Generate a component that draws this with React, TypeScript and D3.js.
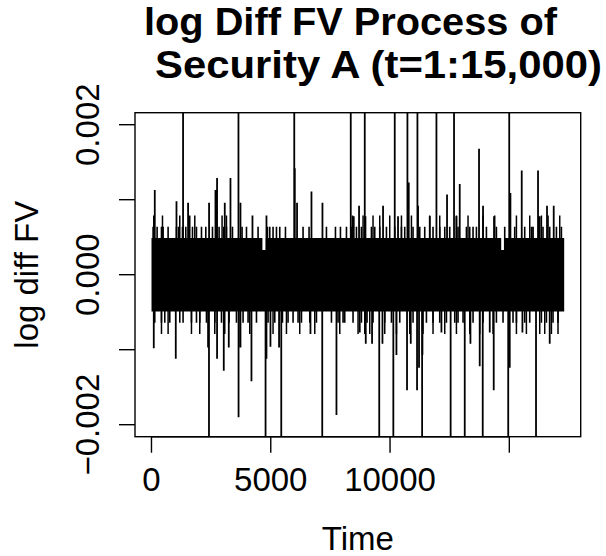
import * as d3 from "d3";

// series length (ts index 1..N)
const N = 17300;

// dense core of the series (solid black band)
const coreTime = [1, 4650, 4790, 14660, 14810, N];
const coreHigh = [0.00049, 0.00033, 0.00049, 0.00033, 0.00049, 0.00049];
const coreLow = [-0.00049, -0.00049, -0.00049, -0.00049, -0.00049, -0.00049];

// jumps that leave the plotting region (clipped by ylim)
const offTopTime = [1324, 3646, 5985, 8353, 8940, 10197, 10729, 11148, 11945, 12682, 14996];
const offBottomTime = [2410, 4782, 5440, 7158, 9547, 10138, 11345, 12540, 13131, 13885, 14954, 16119];
const offTopValue = 0.003;
const offBottomValue = -0.003;

// medium spikes
const spikeTime = [
  138, 1048, 1534, 2414, 2682, 2749, 3072, 3311, 3730, 4233, 4820, 6006, 6102, 6706, 7167,
  8479, 8701, 8969, 9707, 10335, 10784, 11174, 11664, 12389, 12783, 12921, 13730, 13898,
  14359, 15046, 15520, 15993, 16203, 16274, 16580, 16861,
  96, 1018, 2372, 2749, 3030, 3240, 3650, 3730, 4191, 4820, 4987, 5348, 6664, 7754, 8730,
  8982, 9246, 9682, 10268, 10712, 10868, 11132, 11215, 11358, 12154, 13370, 13759, 14179,
  14346, 15017, 15549, 16693,
];
const spikeValue = [
  0.00113, 0.00098, 0.00096, 0.00096, 0.00113, 0.00129, 0.00096, 0.00129, 0.00096, 0.00079,
  0.00079, 0.00142, 0.00096, 0.00111, 0.00096, 0.00078, 0.00092, 0.00078, 0.00092, 0.00078,
  0.00123, 0.00092, 0.00078, 0.00107, 0.00078, 0.00121, 0.00168, 0.00092, 0.00078, 0.00109,
  0.00139, 0.00064, 0.00139, 0.00078, 0.00092, 0.00092,
  -0.00098, -0.00112, -0.00097, -0.00112, -0.00128, -0.00097, -0.0019, -0.00097, -0.00142,
  -0.00112, -0.00096, -0.00097, -0.00079, -0.00187, -0.00077, -0.00092, -0.00092, -0.00092,
  -0.00107, -0.00154, -0.00092, -0.00154, -0.00124, -0.00107, -0.00077, -0.00092, -0.00122,
  -0.00077, -0.00154, -0.00124, -0.00077, -0.00092,
];

// small excursions one price step beyond the core
const edgeHigh = 0.00064;
const edgeLow = -0.00064;
const edgeUpTime = [
  68, 236, 419, 487, 697, 1048, 1144, 1299, 1438, 1719, 1886, 2096, 2276, 2557, 2834, 3030,
  3143, 3395, 3797, 3982, 4468, 4862, 4958, 5096, 5239, 5377, 5616, 6354, 6605, 7334, 7712,
  7921, 8173, 8382, 8592, 8801, 9220, 9359, 9568, 9849, 10197, 10478, 10616, 10964, 11245,
  11454, 11802, 12083, 12293, 12502, 12850, 13202, 13340, 13479, 13621, 14040, 14459, 14807,
  15226, 15645, 15926, 16412, 16693, 16974, 17183,
];
const edgeDownTime = [
  138, 419, 557, 767, 1186, 1324, 1676, 1886, 2024, 2305, 2653, 2934, 3252, 3562, 3839, 4049,
  4401, 4887, 5168, 5490, 5725, 5935, 6144, 6287, 6635, 6915, 7544, 7821, 8030, 8101, 8449,
  8801, 9036, 9287, 9778, 10059, 10407, 10826, 10964, 11525, 11802, 12083, 12364, 12712,
  12850, 13060, 13479, 13898, 14459, 14736, 15155, 15298, 15645, 15855, 16345, 16555, 16832,
  17041,
];

// excursions two price steps beyond the core
const step2High = 0.00079;
const step2Low = -0.00079;
const step2UpTime = [
  96, 461, 1186, 1605, 1815, 2959, 3143, 8424, 8869, 9287, 9568, 9987, 10478, 10897, 11664,
  12083, 12783, 13269, 13898, 14388, 15298, 15855, 16345, 16624, 17113,
];
const step2DownTime = [
  419, 697, 1676, 2024, 2653, 3072, 4120, 5096, 5658, 6215, 6845, 7893, 8659, 8940, 9149,
  9778, 10268, 10826, 11383, 11802, 12293, 12783, 13340, 13759, 14317, 15298, 15716, 16274,
  16484, 16765, 17041,
];

const xTicks = [0, 5000, 10000, 15000];
const xTickLabels = ["0", "5000", "10000", ""];
const yTicks = [-0.002, -0.001, 0, 0.001, 0.002];
const yTickLabels = ["\u22120.002", "", "0.000", "", "0.002"];

const FONT = "'Liberation Sans', Arial, Helvetica, sans-serif";

export default function App() {
  const width = 606, height = 556;
  const left = 135, right = 580.7, top = 112.7, bottom = 436.7;

  // R style 4% padding on the x range, ylim = c(-0.002, 0.002)
  const pad = 0.04 * (N - 1);
  const x = d3.scaleLinear().domain([1 - pad, N + pad]).range([left, right]);
  const y = d3.scaleLinear().domain([-0.00216, 0.00216]).range([bottom, top]);

  const core = d3.area<number>()
    .x(i => x(coreTime[i]))
    .y0(i => y(coreLow[i]))
    .y1(i => y(coreHigh[i]))
    .curve(d3.curveStepAfter);

  const spikes = (times: number[], value: (i: number) => number) => {
    const p = d3.path();
    times.forEach((t, i) => {
      p.moveTo(x(t), y(0));
      p.lineTo(x(t), y(value(i)));
    });
    return p.toString();
  };

  return (
    <svg width={width} height={height} style={{ position: "absolute", left: 0, top: 0, background: "#fff" }}
      fontFamily={FONT}>
      <defs>
        <clipPath id="plot">
          <rect x={left} y={top} width={right - left} height={bottom - top} />
        </clipPath>
      </defs>

      <text x={144} y={35} fontSize={38} fontWeight="bold" textLength={413} lengthAdjust="spacingAndGlyphs">
        log Diff FV Process of
      </text>
      <text x={155} y={78} fontSize={38} fontWeight="bold" textLength={447} lengthAdjust="spacingAndGlyphs">
        Security A (t=1:15,000)
      </text>

      <g clipPath="url(#plot)">
        <path d={core(coreTime.map((_, i) => i)) ?? ""} fill="#000" />
        <path d={spikes(edgeUpTime, () => edgeHigh)} stroke="#000" strokeWidth={1.6} />
        <path d={spikes(edgeDownTime, () => edgeLow)} stroke="#000" strokeWidth={1.6} />
        <path d={spikes(step2UpTime, () => step2High)} stroke="#000" strokeWidth={1.5} />
        <path d={spikes(step2DownTime, () => step2Low)} stroke="#000" strokeWidth={1.5} />
        <path d={spikes(spikeTime, i => spikeValue[i])} stroke="#000" strokeWidth={1.8} />
        <path d={spikes(offTopTime, () => offTopValue)} stroke="#000" strokeWidth={1.8} />
        <path d={spikes(offBottomTime, () => offBottomValue)} stroke="#000" strokeWidth={1.8} />
      </g>

      <rect x={left} y={top} width={right - left} height={bottom - top} fill="none" stroke="#000" strokeWidth={1.4} />

      {/* x axis */}
      <line x1={x(xTicks[0])} x2={x(xTicks[xTicks.length - 1])} y1={bottom} y2={bottom} stroke="#000" strokeWidth={1.4} />
      {xTicks.map((t, i) => (
        <g key={t}>
          <line x1={x(t)} x2={x(t)} y1={bottom} y2={bottom + 16} stroke="#000" strokeWidth={1.4} />
          <text x={x(t)} y={491} fontSize={33} textAnchor="middle">{xTickLabels[i]}</text>
        </g>
      ))}
      <text x={(left + right) / 2} y={550} fontSize={33} textAnchor="middle">Time</text>

      {/* y axis */}
      {yTicks.map((t, i) => (
        <g key={t}>
          <line x1={left - 16} x2={left} y1={y(t)} y2={y(t)} stroke="#000" strokeWidth={1.4} />
          <text transform={`translate(98.5,${y(t)}) rotate(-90)`} fontSize={33} textAnchor="middle">
            {yTickLabels[i]}
          </text>
        </g>
      ))}
      <text transform={`translate(37.5,${(top + bottom) / 2}) rotate(-90)`} fontSize={33} textAnchor="middle">
        log diff FV
      </text>
    </svg>
  );
}
